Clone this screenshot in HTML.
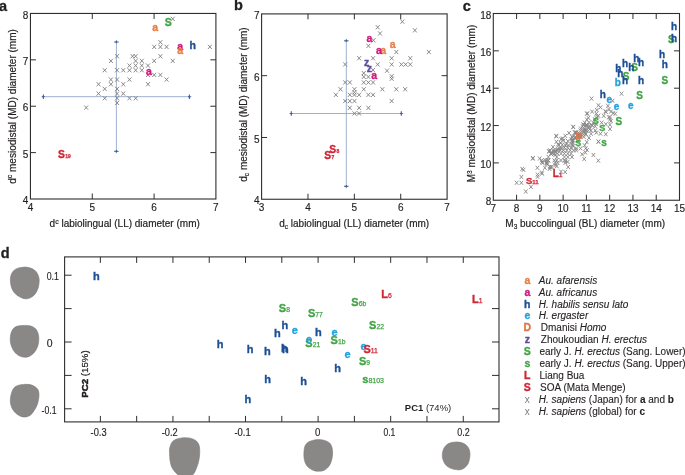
<!DOCTYPE html>
<html><head><meta charset="utf-8"><style>
html,body{margin:0;padding:0;background:#fff;width:685px;height:475px;overflow:hidden}
svg{display:block;will-change:transform}
text{font-family:"Liberation Sans", sans-serif}
</style></head><body>
<svg width="685" height="475" viewBox="0 0 685 475">
<rect x="30.45" y="13.45" width="185.45" height="185.55" fill="none" stroke="#2e2e2e" stroke-width="1.1"/>
<path d="M92.27,199.0v-5.5M92.27,13.45v5.5" stroke="#2e2e2e" stroke-width="1"/>
<path d="M154.08,199.0v-5.5M154.08,13.45v5.5" stroke="#2e2e2e" stroke-width="1"/>
<path d="M30.45,152.61h5.5M215.9,152.61h-5.5" stroke="#2e2e2e" stroke-width="1"/>
<path d="M30.45,106.22h5.5M215.9,106.22h-5.5" stroke="#2e2e2e" stroke-width="1"/>
<path d="M30.45,59.84h5.5M215.9,59.84h-5.5" stroke="#2e2e2e" stroke-width="1"/>
<text x="30.45" y="211.00" font-size="10" text-anchor="middle" font-weight="normal" fill="#231f20"  stroke="#231f20" stroke-width="0.15">4</text>
<text x="92.27" y="211.00" font-size="10" text-anchor="middle" font-weight="normal" fill="#231f20"  stroke="#231f20" stroke-width="0.15">5</text>
<text x="154.08" y="211.00" font-size="10" text-anchor="middle" font-weight="normal" fill="#231f20"  stroke="#231f20" stroke-width="0.15">6</text>
<text x="215.90" y="211.00" font-size="10" text-anchor="middle" font-weight="normal" fill="#231f20"  stroke="#231f20" stroke-width="0.15">7</text>
<text x="28.30" y="204.20" font-size="10" text-anchor="end" font-weight="normal" fill="#231f20"  stroke="#231f20" stroke-width="0.15">4</text>
<text x="28.30" y="157.81" font-size="10" text-anchor="end" font-weight="normal" fill="#231f20"  stroke="#231f20" stroke-width="0.15">5</text>
<text x="28.30" y="111.42" font-size="10" text-anchor="end" font-weight="normal" fill="#231f20"  stroke="#231f20" stroke-width="0.15">6</text>
<text x="28.30" y="65.04" font-size="10" text-anchor="end" font-weight="normal" fill="#231f20"  stroke="#231f20" stroke-width="0.15">7</text>
<text x="28.30" y="18.65" font-size="10" text-anchor="end" font-weight="normal" fill="#231f20"  stroke="#231f20" stroke-width="0.15">8</text>
<path d="M41.40,96.70H191.40M116.40,40.00V153.30" stroke="#94a7cc" stroke-width="0.9" fill="none"/>
<path d="M43.40,94.50v4.4" stroke="#3f5f95" stroke-width="1.1"/>
<path d="M42.10,96.70h2.6" stroke="#3f5f95" stroke-width="1.1"/>
<path d="M189.40,94.50v4.4" stroke="#3f5f95" stroke-width="1.1"/>
<path d="M188.10,96.70h2.6" stroke="#3f5f95" stroke-width="1.1"/>
<path d="M114.20,42.00h4.4" stroke="#3f5f95" stroke-width="1.1"/>
<path d="M116.40,40.70v2.6" stroke="#3f5f95" stroke-width="1.1"/>
<path d="M114.20,151.30h4.4" stroke="#3f5f95" stroke-width="1.1"/>
<path d="M116.40,150.00v2.6" stroke="#3f5f95" stroke-width="1.1"/>
<path d="M84.22,105.49L88.12,109.71M88.12,105.49L84.22,109.71" stroke="#7e7e7e" stroke-width="0.9" fill="none"/>
<path d="M96.58,82.14L100.48,86.36M100.48,82.14L96.58,86.36" stroke="#7e7e7e" stroke-width="0.9" fill="none"/>
<path d="M96.58,91.48L100.48,95.70M100.48,91.48L96.58,95.70" stroke="#7e7e7e" stroke-width="0.9" fill="none"/>
<path d="M102.77,68.13L106.67,72.35M106.67,68.13L102.77,72.35" stroke="#7e7e7e" stroke-width="0.9" fill="none"/>
<path d="M102.77,86.81L106.67,91.03M106.67,86.81L102.77,91.03" stroke="#7e7e7e" stroke-width="0.9" fill="none"/>
<path d="M102.77,96.15L106.67,100.37M106.67,96.15L102.77,100.37" stroke="#7e7e7e" stroke-width="0.9" fill="none"/>
<path d="M108.95,58.79L112.86,63.01M112.86,58.79L108.95,63.01" stroke="#7e7e7e" stroke-width="0.9" fill="none"/>
<path d="M108.95,77.47L112.86,81.69M112.86,77.47L108.95,81.69" stroke="#7e7e7e" stroke-width="0.9" fill="none"/>
<path d="M108.95,82.14L112.86,86.36M112.86,82.14L108.95,86.36" stroke="#7e7e7e" stroke-width="0.9" fill="none"/>
<path d="M115.14,54.12L119.04,58.34M119.04,54.12L115.14,58.34" stroke="#7e7e7e" stroke-width="0.9" fill="none"/>
<path d="M115.14,68.13L119.04,72.35M119.04,68.13L115.14,72.35" stroke="#7e7e7e" stroke-width="0.9" fill="none"/>
<path d="M115.14,77.47L119.04,81.69M119.04,77.47L115.14,81.69" stroke="#7e7e7e" stroke-width="0.9" fill="none"/>
<path d="M115.14,86.81L119.04,91.03M119.04,86.81L115.14,91.03" stroke="#7e7e7e" stroke-width="0.9" fill="none"/>
<path d="M115.14,91.48L119.04,95.70M119.04,91.48L115.14,95.70" stroke="#7e7e7e" stroke-width="0.9" fill="none"/>
<path d="M115.14,96.15L119.04,100.37M119.04,96.15L115.14,100.37" stroke="#7e7e7e" stroke-width="0.9" fill="none"/>
<path d="M115.14,100.82L119.04,105.04M119.04,100.82L115.14,105.04" stroke="#7e7e7e" stroke-width="0.9" fill="none"/>
<path d="M121.33,68.13L125.23,72.35M125.23,68.13L121.33,72.35" stroke="#7e7e7e" stroke-width="0.9" fill="none"/>
<path d="M121.33,82.14L125.23,86.36M125.23,82.14L121.33,86.36" stroke="#7e7e7e" stroke-width="0.9" fill="none"/>
<path d="M121.33,91.48L125.23,95.70M125.23,91.48L121.33,95.70" stroke="#7e7e7e" stroke-width="0.9" fill="none"/>
<path d="M127.51,63.46L131.41,67.68M131.41,63.46L127.51,67.68" stroke="#7e7e7e" stroke-width="0.9" fill="none"/>
<path d="M127.51,68.13L131.41,72.35M131.41,68.13L127.51,72.35" stroke="#7e7e7e" stroke-width="0.9" fill="none"/>
<path d="M127.51,77.47L131.41,81.69M131.41,77.47L127.51,81.69" stroke="#7e7e7e" stroke-width="0.9" fill="none"/>
<path d="M127.51,96.15L131.41,100.37M131.41,96.15L127.51,100.37" stroke="#7e7e7e" stroke-width="0.9" fill="none"/>
<path d="M130.60,54.12L134.50,58.34M134.50,54.12L130.60,58.34" stroke="#7e7e7e" stroke-width="0.9" fill="none"/>
<path d="M133.70,54.12L137.59,58.34M137.59,54.12L133.70,58.34" stroke="#7e7e7e" stroke-width="0.9" fill="none"/>
<path d="M133.70,58.79L137.59,63.01M137.59,58.79L133.70,63.01" stroke="#7e7e7e" stroke-width="0.9" fill="none"/>
<path d="M133.70,63.46L137.59,67.68M137.59,63.46L133.70,67.68" stroke="#7e7e7e" stroke-width="0.9" fill="none"/>
<path d="M133.70,68.13L137.59,72.35M137.59,68.13L133.70,72.35" stroke="#7e7e7e" stroke-width="0.9" fill="none"/>
<path d="M133.70,96.15L137.59,100.37M137.59,96.15L133.70,100.37" stroke="#7e7e7e" stroke-width="0.9" fill="none"/>
<path d="M139.88,58.79L143.78,63.01M143.78,58.79L139.88,63.01" stroke="#7e7e7e" stroke-width="0.9" fill="none"/>
<path d="M139.88,63.46L143.78,67.68M143.78,63.46L139.88,67.68" stroke="#7e7e7e" stroke-width="0.9" fill="none"/>
<path d="M139.88,68.13L143.78,72.35M143.78,68.13L139.88,72.35" stroke="#7e7e7e" stroke-width="0.9" fill="none"/>
<path d="M146.07,63.46L149.97,67.68M149.97,63.46L146.07,67.68" stroke="#7e7e7e" stroke-width="0.9" fill="none"/>
<path d="M146.07,72.80L149.97,77.02M149.97,72.80L146.07,77.02" stroke="#7e7e7e" stroke-width="0.9" fill="none"/>
<path d="M146.07,82.14L149.97,86.36M149.97,82.14L146.07,86.36" stroke="#7e7e7e" stroke-width="0.9" fill="none"/>
<path d="M152.25,44.78L156.15,49.00M156.15,44.78L152.25,49.00" stroke="#7e7e7e" stroke-width="0.9" fill="none"/>
<path d="M152.25,58.79L156.15,63.01M156.15,58.79L152.25,63.01" stroke="#7e7e7e" stroke-width="0.9" fill="none"/>
<path d="M152.25,72.80L156.15,77.02M156.15,72.80L152.25,77.02" stroke="#7e7e7e" stroke-width="0.9" fill="none"/>
<path d="M158.43,40.11L162.33,44.33M162.33,40.11L158.43,44.33" stroke="#7e7e7e" stroke-width="0.9" fill="none"/>
<path d="M158.43,44.78L162.33,49.00M162.33,44.78L158.43,49.00" stroke="#7e7e7e" stroke-width="0.9" fill="none"/>
<path d="M158.43,54.12L162.33,58.34M162.33,54.12L158.43,58.34" stroke="#7e7e7e" stroke-width="0.9" fill="none"/>
<path d="M158.43,72.80L162.33,77.02M162.33,72.80L158.43,77.02" stroke="#7e7e7e" stroke-width="0.9" fill="none"/>
<path d="M164.62,44.78L168.52,49.00M168.52,44.78L164.62,49.00" stroke="#7e7e7e" stroke-width="0.9" fill="none"/>
<path d="M164.62,77.47L168.52,81.69M168.52,77.47L164.62,81.69" stroke="#7e7e7e" stroke-width="0.9" fill="none"/>
<path d="M170.80,16.76L174.70,20.98M174.70,16.76L170.80,20.98" stroke="#7e7e7e" stroke-width="0.9" fill="none"/>
<path d="M170.80,58.79L174.70,63.01M174.70,58.79L170.80,63.01" stroke="#7e7e7e" stroke-width="0.9" fill="none"/>
<path d="M207.92,44.78L211.82,49.00M211.82,44.78L207.92,49.00" stroke="#7e7e7e" stroke-width="0.9" fill="none"/>
<text x="164.75" y="25.71" fill="#44a447" stroke="#44a447" stroke-width="0.35" font-size="10.5" font-weight="bold">S</text>
<text x="152.29" y="30.57" fill="#e5804a" stroke="#e5804a" stroke-width="0.35" font-size="10.5" font-weight="bold">a</text>
<text x="177.19" y="49.67" fill="#d2187f" stroke="#d2187f" stroke-width="0.35" font-size="10.5" font-weight="bold">a</text>
<text x="177.19" y="53.57" fill="#e5804a" stroke="#e5804a" stroke-width="0.35" font-size="10.5" font-weight="bold">a</text>
<text x="189.60" y="49.15" fill="#1d4f96" stroke="#1d4f96" stroke-width="0.35" font-size="10.5" font-weight="bold">h</text>
<text x="145.89" y="74.67" fill="#d2187f" stroke="#d2187f" stroke-width="0.35" font-size="10.5" font-weight="bold">a</text>
<text x="58.07" y="157.90" fill="#cf2636" stroke="#cf2636" stroke-width="0.35" font-size="10.3" font-weight="bold">S</text>
<text x="65.34" y="157.90" fill="#cf2636" stroke="#cf2636" stroke-width="0.25" font-size="5" font-weight="bold">19</text>
<text x="124.7" y="226.7" font-size="10" text-anchor="middle" fill="#231f20" stroke="#231f20" stroke-width="0.2">d<tspan font-size="7" dy="-3.2">c</tspan><tspan dy="3.2"> labiolingual (LL) diameter (mm)</tspan></text>
<text transform="translate(15.6,106.5) rotate(-90)" x="0" y="0" font-size="10" text-anchor="middle" fill="#231f20" stroke="#231f20" stroke-width="0.2">d<tspan font-size="7" dy="-3.2">c</tspan><tspan dy="3.2"> mesiodistal (MD) diameter (mm)</tspan></text>
<text x="-1.00" y="10.60" font-size="14.5" text-anchor="start" font-weight="bold" fill="#231f20" stroke="#231f20" stroke-width="0.3">a</text>
<rect x="261.6" y="13.9" width="185.50" height="185.35" fill="none" stroke="#2e2e2e" stroke-width="1.1"/>
<path d="M307.98,199.25v-5.5M307.98,13.9v5.5" stroke="#2e2e2e" stroke-width="1"/>
<path d="M354.35,199.25v-5.5M354.35,13.9v5.5" stroke="#2e2e2e" stroke-width="1"/>
<path d="M400.73,199.25v-5.5M400.73,13.9v5.5" stroke="#2e2e2e" stroke-width="1"/>
<path d="M261.6,137.47h5.5M447.1,137.47h-5.5" stroke="#2e2e2e" stroke-width="1"/>
<path d="M261.6,75.68h5.5M447.1,75.68h-5.5" stroke="#2e2e2e" stroke-width="1"/>
<text x="261.60" y="211.00" font-size="10" text-anchor="middle" font-weight="normal" fill="#231f20"  stroke="#231f20" stroke-width="0.15">3</text>
<text x="307.98" y="211.00" font-size="10" text-anchor="middle" font-weight="normal" fill="#231f20"  stroke="#231f20" stroke-width="0.15">4</text>
<text x="354.35" y="211.00" font-size="10" text-anchor="middle" font-weight="normal" fill="#231f20"  stroke="#231f20" stroke-width="0.15">5</text>
<text x="400.73" y="211.00" font-size="10" text-anchor="middle" font-weight="normal" fill="#231f20"  stroke="#231f20" stroke-width="0.15">6</text>
<text x="447.10" y="211.00" font-size="10" text-anchor="middle" font-weight="normal" fill="#231f20"  stroke="#231f20" stroke-width="0.15">7</text>
<text x="259.60" y="204.45" font-size="10" text-anchor="end" font-weight="normal" fill="#231f20"  stroke="#231f20" stroke-width="0.15">4</text>
<text x="259.60" y="142.67" font-size="10" text-anchor="end" font-weight="normal" fill="#231f20"  stroke="#231f20" stroke-width="0.15">5</text>
<text x="259.60" y="80.88" font-size="10" text-anchor="end" font-weight="normal" fill="#231f20"  stroke="#231f20" stroke-width="0.15">6</text>
<text x="259.60" y="19.10" font-size="10" text-anchor="end" font-weight="normal" fill="#231f20"  stroke="#231f20" stroke-width="0.15">7</text>
<path d="M289.30,113.50H403.30M346.30,38.80V188.30" stroke="#94a7cc" stroke-width="0.9" fill="none"/>
<path d="M291.30,111.30v4.4" stroke="#3f5f95" stroke-width="1.1"/>
<path d="M290.00,113.50h2.6" stroke="#3f5f95" stroke-width="1.1"/>
<path d="M401.30,111.30v4.4" stroke="#3f5f95" stroke-width="1.1"/>
<path d="M400.00,113.50h2.6" stroke="#3f5f95" stroke-width="1.1"/>
<path d="M344.10,40.80h4.4" stroke="#3f5f95" stroke-width="1.1"/>
<path d="M346.30,39.50v2.6" stroke="#3f5f95" stroke-width="1.1"/>
<path d="M344.10,186.30h4.4" stroke="#3f5f95" stroke-width="1.1"/>
<path d="M346.30,185.00v2.6" stroke="#3f5f95" stroke-width="1.1"/>
<path d="M375.76,25.15L379.66,29.37M379.66,25.15L375.76,29.37" stroke="#7e7e7e" stroke-width="0.9" fill="none"/>
<path d="M378.09,31.35L381.99,35.57M381.99,31.35L378.09,35.57" stroke="#7e7e7e" stroke-width="0.9" fill="none"/>
<path d="M371.58,38.17L375.48,42.39M375.48,38.17L371.58,42.39" stroke="#7e7e7e" stroke-width="0.9" fill="none"/>
<path d="M366.46,43.75L370.36,47.97M370.36,43.75L366.46,47.97" stroke="#7e7e7e" stroke-width="0.9" fill="none"/>
<path d="M394.37,49.95L398.26,54.17M398.26,49.95L394.37,54.17" stroke="#7e7e7e" stroke-width="0.9" fill="none"/>
<path d="M400.41,19.57L404.31,23.79M404.31,19.57L400.41,23.79" stroke="#7e7e7e" stroke-width="0.9" fill="none"/>
<path d="M412.96,28.25L416.86,32.47M416.86,28.25L412.96,32.47" stroke="#7e7e7e" stroke-width="0.9" fill="none"/>
<path d="M426.92,49.95L430.81,54.17M430.81,49.95L426.92,54.17" stroke="#7e7e7e" stroke-width="0.9" fill="none"/>
<path d="M357.17,56.15L361.06,60.37M361.06,56.15L357.17,60.37" stroke="#7e7e7e" stroke-width="0.9" fill="none"/>
<path d="M371.12,56.15L375.01,60.37M375.01,56.15L371.12,60.37" stroke="#7e7e7e" stroke-width="0.9" fill="none"/>
<path d="M389.71,56.15L393.61,60.37M393.61,56.15L389.71,60.37" stroke="#7e7e7e" stroke-width="0.9" fill="none"/>
<path d="M408.31,56.15L412.21,60.37M412.21,56.15L408.31,60.37" stroke="#7e7e7e" stroke-width="0.9" fill="none"/>
<path d="M343.21,62.35L347.11,66.57M347.11,62.35L343.21,66.57" stroke="#7e7e7e" stroke-width="0.9" fill="none"/>
<path d="M375.76,62.35L379.66,66.57M379.66,62.35L375.76,66.57" stroke="#7e7e7e" stroke-width="0.9" fill="none"/>
<path d="M389.71,62.35L393.61,66.57M393.61,62.35L389.71,66.57" stroke="#7e7e7e" stroke-width="0.9" fill="none"/>
<path d="M399.48,62.35L403.38,66.57M403.38,62.35L399.48,66.57" stroke="#7e7e7e" stroke-width="0.9" fill="none"/>
<path d="M403.67,62.35L407.56,66.57M407.56,62.35L403.67,66.57" stroke="#7e7e7e" stroke-width="0.9" fill="none"/>
<path d="M408.31,62.35L412.21,66.57M412.21,62.35L408.31,66.57" stroke="#7e7e7e" stroke-width="0.9" fill="none"/>
<path d="M371.12,67.93L375.01,72.15M375.01,67.93L371.12,72.15" stroke="#7e7e7e" stroke-width="0.9" fill="none"/>
<path d="M385.06,68.55L388.96,72.77M388.96,68.55L385.06,72.77" stroke="#7e7e7e" stroke-width="0.9" fill="none"/>
<path d="M361.81,71.03L365.71,75.25M365.71,71.03L361.81,75.25" stroke="#7e7e7e" stroke-width="0.9" fill="none"/>
<path d="M361.81,74.75L365.71,78.97M365.71,74.75L361.81,78.97" stroke="#7e7e7e" stroke-width="0.9" fill="none"/>
<path d="M366.46,74.75L370.36,78.97M370.36,74.75L366.46,78.97" stroke="#7e7e7e" stroke-width="0.9" fill="none"/>
<path d="M389.71,74.13L393.61,78.35M393.61,74.13L389.71,78.35" stroke="#7e7e7e" stroke-width="0.9" fill="none"/>
<path d="M389.71,76.61L393.61,80.83M393.61,76.61L389.71,80.83" stroke="#7e7e7e" stroke-width="0.9" fill="none"/>
<path d="M343.21,80.33L347.11,84.55M347.11,80.33L343.21,84.55" stroke="#7e7e7e" stroke-width="0.9" fill="none"/>
<path d="M347.87,80.33L351.76,84.55M351.76,80.33L347.87,84.55" stroke="#7e7e7e" stroke-width="0.9" fill="none"/>
<path d="M361.81,80.33L365.71,84.55M365.71,80.33L361.81,84.55" stroke="#7e7e7e" stroke-width="0.9" fill="none"/>
<path d="M366.46,80.33L370.36,84.55M370.36,80.33L366.46,84.55" stroke="#7e7e7e" stroke-width="0.9" fill="none"/>
<path d="M371.12,80.33L375.01,84.55M375.01,80.33L371.12,84.55" stroke="#7e7e7e" stroke-width="0.9" fill="none"/>
<path d="M338.56,87.15L342.46,91.37M342.46,87.15L338.56,91.37" stroke="#7e7e7e" stroke-width="0.9" fill="none"/>
<path d="M352.51,87.15L356.41,91.37M356.41,87.15L352.51,91.37" stroke="#7e7e7e" stroke-width="0.9" fill="none"/>
<path d="M352.51,90.25L356.41,94.47M356.41,90.25L352.51,94.47" stroke="#7e7e7e" stroke-width="0.9" fill="none"/>
<path d="M361.81,87.15L365.71,91.37M365.71,87.15L361.81,91.37" stroke="#7e7e7e" stroke-width="0.9" fill="none"/>
<path d="M380.42,87.15L384.31,91.37M384.31,87.15L380.42,91.37" stroke="#7e7e7e" stroke-width="0.9" fill="none"/>
<path d="M394.37,87.15L398.26,91.37M398.26,87.15L394.37,91.37" stroke="#7e7e7e" stroke-width="0.9" fill="none"/>
<path d="M403.20,87.15L407.10,91.37M407.10,87.15L403.20,91.37" stroke="#7e7e7e" stroke-width="0.9" fill="none"/>
<path d="M333.92,92.73L337.81,96.95M337.81,92.73L333.92,96.95" stroke="#7e7e7e" stroke-width="0.9" fill="none"/>
<path d="M347.87,92.73L351.76,96.95M351.76,92.73L347.87,96.95" stroke="#7e7e7e" stroke-width="0.9" fill="none"/>
<path d="M352.51,92.73L356.41,96.95M356.41,92.73L352.51,96.95" stroke="#7e7e7e" stroke-width="0.9" fill="none"/>
<path d="M357.17,92.73L361.06,96.95M361.06,92.73L357.17,96.95" stroke="#7e7e7e" stroke-width="0.9" fill="none"/>
<path d="M366.46,92.73L370.36,96.95M370.36,92.73L366.46,96.95" stroke="#7e7e7e" stroke-width="0.9" fill="none"/>
<path d="M371.12,92.73L375.01,96.95M375.01,92.73L371.12,96.95" stroke="#7e7e7e" stroke-width="0.9" fill="none"/>
<path d="M343.21,98.93L347.11,103.15M347.11,98.93L343.21,103.15" stroke="#7e7e7e" stroke-width="0.9" fill="none"/>
<path d="M347.87,98.93L351.76,103.15M351.76,98.93L347.87,103.15" stroke="#7e7e7e" stroke-width="0.9" fill="none"/>
<path d="M352.51,98.93L356.41,103.15M356.41,98.93L352.51,103.15" stroke="#7e7e7e" stroke-width="0.9" fill="none"/>
<path d="M389.71,98.93L393.61,103.15M393.61,98.93L389.71,103.15" stroke="#7e7e7e" stroke-width="0.9" fill="none"/>
<path d="M347.87,105.75L351.76,109.97M351.76,105.75L347.87,109.97" stroke="#7e7e7e" stroke-width="0.9" fill="none"/>
<path d="M357.17,105.75L361.06,109.97M361.06,105.75L357.17,109.97" stroke="#7e7e7e" stroke-width="0.9" fill="none"/>
<path d="M366.46,105.75L370.36,109.97M370.36,105.75L366.46,109.97" stroke="#7e7e7e" stroke-width="0.9" fill="none"/>
<path d="M352.51,111.33L356.41,115.55M356.41,111.33L352.51,115.55" stroke="#7e7e7e" stroke-width="0.9" fill="none"/>
<path d="M357.17,111.33L361.06,115.55M361.06,111.33L357.17,115.55" stroke="#7e7e7e" stroke-width="0.9" fill="none"/>
<text x="366.59" y="41.67" fill="#d2187f" stroke="#d2187f" stroke-width="0.35" font-size="10.5" font-weight="bold">a</text>
<text x="389.79" y="47.77" fill="#e5804a" stroke="#e5804a" stroke-width="0.35" font-size="10.5" font-weight="bold">a</text>
<text x="380.19" y="54.27" fill="#e5804a" stroke="#e5804a" stroke-width="0.35" font-size="10.5" font-weight="bold">a</text>
<text x="375.89" y="54.27" fill="#d2187f" stroke="#d2187f" stroke-width="0.35" font-size="10.5" font-weight="bold">a</text>
<text x="364.05" y="66.47" fill="#5f4c98" stroke="#5f4c98" stroke-width="0.35" font-size="10.5" font-weight="bold">z</text>
<text x="366.85" y="72.47" fill="#5f4c98" stroke="#5f4c98" stroke-width="0.35" font-size="10.5" font-weight="bold">z</text>
<text x="371.29" y="78.77" fill="#d2187f" stroke="#d2187f" stroke-width="0.35" font-size="10.5" font-weight="bold">a</text>
<text x="329.22" y="152.80" fill="#cf2636" stroke="#cf2636" stroke-width="0.35" font-size="10.3" font-weight="bold">S</text>
<text x="336.49" y="152.80" fill="#cf2636" stroke="#cf2636" stroke-width="0.25" font-size="5" font-weight="bold">8</text>
<text x="324.27" y="158.95" fill="#cf2636" stroke="#cf2636" stroke-width="0.35" font-size="10.3" font-weight="bold">S</text>
<text x="331.54" y="158.95" fill="#cf2636" stroke="#cf2636" stroke-width="0.25" font-size="5" font-weight="bold">7</text>
<text x="354.2" y="226.7" font-size="10" text-anchor="middle" fill="#231f20" stroke="#231f20" stroke-width="0.2">d<tspan font-size="6.5" dy="2">c</tspan><tspan dy="-2"> labiolingual (LL) diameter (mm)</tspan></text>
<text transform="translate(246.9,104.5) rotate(-90)" x="0" y="0" font-size="10" text-anchor="middle" fill="#231f20" stroke="#231f20" stroke-width="0.2">d<tspan font-size="6.5" dy="2">c</tspan><tspan dy="-2"> mesiodistal (MD) diameter (mm)</tspan></text>
<text x="234.00" y="10.00" font-size="14.5" text-anchor="start" font-weight="bold" fill="#231f20" stroke="#231f20" stroke-width="0.3">b</text>
<rect x="493.3" y="13.5" width="186.20" height="186.75" fill="none" stroke="#2e2e2e" stroke-width="1.1"/>
<path d="M516.58,200.25v-5.5M516.58,13.5v5.5" stroke="#2e2e2e" stroke-width="1"/>
<path d="M539.85,200.25v-5.5M539.85,13.5v5.5" stroke="#2e2e2e" stroke-width="1"/>
<path d="M563.12,200.25v-5.5M563.12,13.5v5.5" stroke="#2e2e2e" stroke-width="1"/>
<path d="M586.40,200.25v-5.5M586.40,13.5v5.5" stroke="#2e2e2e" stroke-width="1"/>
<path d="M609.67,200.25v-5.5M609.67,13.5v5.5" stroke="#2e2e2e" stroke-width="1"/>
<path d="M632.95,200.25v-5.5M632.95,13.5v5.5" stroke="#2e2e2e" stroke-width="1"/>
<path d="M656.23,200.25v-5.5M656.23,13.5v5.5" stroke="#2e2e2e" stroke-width="1"/>
<path d="M493.3,162.90h5.5M679.5,162.90h-5.5" stroke="#2e2e2e" stroke-width="1"/>
<path d="M493.3,125.55h5.5M679.5,125.55h-5.5" stroke="#2e2e2e" stroke-width="1"/>
<path d="M493.3,88.20h5.5M679.5,88.20h-5.5" stroke="#2e2e2e" stroke-width="1"/>
<path d="M493.3,50.85h5.5M679.5,50.85h-5.5" stroke="#2e2e2e" stroke-width="1"/>
<text x="493.30" y="212.30" font-size="10" text-anchor="middle" font-weight="normal" fill="#231f20"  stroke="#231f20" stroke-width="0.15">7</text>
<text x="516.58" y="212.30" font-size="10" text-anchor="middle" font-weight="normal" fill="#231f20"  stroke="#231f20" stroke-width="0.15">8</text>
<text x="539.85" y="212.30" font-size="10" text-anchor="middle" font-weight="normal" fill="#231f20"  stroke="#231f20" stroke-width="0.15">9</text>
<text x="563.12" y="212.30" font-size="10" text-anchor="middle" font-weight="normal" fill="#231f20"  stroke="#231f20" stroke-width="0.15">10</text>
<text x="586.40" y="212.30" font-size="10" text-anchor="middle" font-weight="normal" fill="#231f20"  stroke="#231f20" stroke-width="0.15">11</text>
<text x="609.67" y="212.30" font-size="10" text-anchor="middle" font-weight="normal" fill="#231f20"  stroke="#231f20" stroke-width="0.15">12</text>
<text x="632.95" y="212.30" font-size="10" text-anchor="middle" font-weight="normal" fill="#231f20"  stroke="#231f20" stroke-width="0.15">13</text>
<text x="656.23" y="212.30" font-size="10" text-anchor="middle" font-weight="normal" fill="#231f20"  stroke="#231f20" stroke-width="0.15">14</text>
<text x="679.50" y="212.30" font-size="10" text-anchor="middle" font-weight="normal" fill="#231f20"  stroke="#231f20" stroke-width="0.15">15</text>
<text x="491.30" y="205.45" font-size="10" text-anchor="end" font-weight="normal" fill="#231f20"  stroke="#231f20" stroke-width="0.15">8</text>
<text x="491.30" y="168.10" font-size="10" text-anchor="end" font-weight="normal" fill="#231f20"  stroke="#231f20" stroke-width="0.15">10</text>
<text x="491.30" y="130.75" font-size="10" text-anchor="end" font-weight="normal" fill="#231f20"  stroke="#231f20" stroke-width="0.15">12</text>
<text x="491.30" y="93.40" font-size="10" text-anchor="end" font-weight="normal" fill="#231f20"  stroke="#231f20" stroke-width="0.15">14</text>
<text x="491.30" y="56.05" font-size="10" text-anchor="end" font-weight="normal" fill="#231f20"  stroke="#231f20" stroke-width="0.15">16</text>
<text x="491.30" y="18.70" font-size="10" text-anchor="end" font-weight="normal" fill="#231f20"  stroke="#231f20" stroke-width="0.15">18</text>
<path d="M514.85,180.75L518.35,184.85M518.35,180.75L514.85,184.85" stroke="#878787" stroke-width="0.9" fill="none"/>
<path d="M519.65,180.75L523.15,184.85M523.15,180.75L519.65,184.85" stroke="#878787" stroke-width="0.9" fill="none"/>
<path d="M519.65,174.95L523.15,179.05M523.15,174.95L519.65,179.05" stroke="#878787" stroke-width="0.9" fill="none"/>
<path d="M521.75,167.85L525.25,171.95M525.25,167.85L521.75,171.95" stroke="#878787" stroke-width="0.9" fill="none"/>
<path d="M531.05,156.45L534.55,160.55M534.55,156.45L531.05,160.55" stroke="#878787" stroke-width="0.9" fill="none"/>
<path d="M537.95,156.45L541.45,160.55M541.45,156.45L537.95,160.55" stroke="#878787" stroke-width="0.9" fill="none"/>
<path d="M540.25,159.95L543.75,164.05M543.75,159.95L540.25,164.05" stroke="#878787" stroke-width="0.9" fill="none"/>
<path d="M535.65,165.75L539.15,169.85M539.15,165.75L535.65,169.85" stroke="#878787" stroke-width="0.9" fill="none"/>
<path d="M543.15,165.75L546.65,169.85M546.65,165.75L543.15,169.85" stroke="#878787" stroke-width="0.9" fill="none"/>
<path d="M535.85,172.45L539.35,176.55M539.35,172.45L535.85,176.55" stroke="#878787" stroke-width="0.9" fill="none"/>
<path d="M535.85,174.75L539.35,178.85M539.35,174.75L535.85,178.85" stroke="#878787" stroke-width="0.9" fill="none"/>
<path d="M540.25,171.55L543.75,175.65M543.75,171.55L540.25,175.65" stroke="#878787" stroke-width="0.9" fill="none"/>
<path d="M545.45,162.25L548.95,166.35M548.95,162.25L545.45,166.35" stroke="#878787" stroke-width="0.9" fill="none"/>
<path d="M547.85,166.85L551.35,170.95M551.35,166.85L547.85,170.95" stroke="#878787" stroke-width="0.9" fill="none"/>
<path d="M548.95,165.15L552.45,169.25M552.45,165.15L548.95,169.25" stroke="#878787" stroke-width="0.9" fill="none"/>
<path d="M529.25,184.85L532.75,188.95M532.75,184.85L529.25,188.95" stroke="#878787" stroke-width="0.9" fill="none"/>
<path d="M524.05,189.45L527.55,193.55M527.55,189.45L524.05,193.55" stroke="#878787" stroke-width="0.9" fill="none"/>
<path d="M547.25,149.55L550.75,153.65M550.75,149.55L547.25,153.65" stroke="#878787" stroke-width="0.9" fill="none"/>
<path d="M549.55,151.85L553.05,155.95M553.05,151.85L549.55,155.95" stroke="#878787" stroke-width="0.9" fill="none"/>
<path d="M551.85,149.55L555.35,153.65M555.35,149.55L551.85,153.65" stroke="#878787" stroke-width="0.9" fill="none"/>
<path d="M546.65,158.25L550.15,162.35M550.15,158.25L546.65,162.35" stroke="#878787" stroke-width="0.9" fill="none"/>
<path d="M544.95,159.95L548.45,164.05M548.45,159.95L544.95,164.05" stroke="#878787" stroke-width="0.9" fill="none"/>
<path d="M571.55,125.05L575.05,129.15M575.05,125.05L571.55,129.15" stroke="#878787" stroke-width="0.9" fill="none"/>
<path d="M554.65,134.35L558.15,138.45M558.15,134.35L554.65,138.45" stroke="#878787" stroke-width="0.9" fill="none"/>
<path d="M563.55,133.85L567.05,137.95M567.05,133.85L563.55,137.95" stroke="#878787" stroke-width="0.9" fill="none"/>
<path d="M560.95,136.45L564.45,140.55M564.45,136.45L560.95,140.55" stroke="#878787" stroke-width="0.9" fill="none"/>
<path d="M554.65,139.75L558.15,143.85M558.15,139.75L554.65,143.85" stroke="#878787" stroke-width="0.9" fill="none"/>
<path d="M558.85,140.65L562.35,144.75M562.35,140.65L558.85,144.75" stroke="#878787" stroke-width="0.9" fill="none"/>
<path d="M566.05,138.95L569.55,143.05M569.55,138.95L566.05,143.05" stroke="#878787" stroke-width="0.9" fill="none"/>
<path d="M570.65,135.55L574.15,139.65M574.15,135.55L570.65,139.65" stroke="#878787" stroke-width="0.9" fill="none"/>
<path d="M570.65,138.15L574.15,142.25M574.15,138.15L570.65,142.25" stroke="#878787" stroke-width="0.9" fill="none"/>
<path d="M570.65,140.65L574.15,144.75M574.15,140.65L570.65,144.75" stroke="#878787" stroke-width="0.9" fill="none"/>
<path d="M570.65,143.15L574.15,147.25M574.15,143.15L570.65,147.25" stroke="#878787" stroke-width="0.9" fill="none"/>
<path d="M563.55,143.15L567.05,147.25M567.05,143.15L563.55,147.25" stroke="#878787" stroke-width="0.9" fill="none"/>
<path d="M566.85,143.15L570.35,147.25M570.35,143.15L566.85,147.25" stroke="#878787" stroke-width="0.9" fill="none"/>
<path d="M559.25,145.65L562.75,149.75M562.75,145.65L559.25,149.75" stroke="#878787" stroke-width="0.9" fill="none"/>
<path d="M562.65,145.65L566.15,149.75M566.15,145.65L562.65,149.75" stroke="#878787" stroke-width="0.9" fill="none"/>
<path d="M566.05,145.65L569.55,149.75M569.55,145.65L566.05,149.75" stroke="#878787" stroke-width="0.9" fill="none"/>
<path d="M548.35,148.25L551.85,152.35M551.85,148.25L548.35,152.35" stroke="#878787" stroke-width="0.9" fill="none"/>
<path d="M551.75,148.25L555.25,152.35M555.25,148.25L551.75,152.35" stroke="#878787" stroke-width="0.9" fill="none"/>
<path d="M555.05,148.25L558.55,152.35M558.55,148.25L555.05,152.35" stroke="#878787" stroke-width="0.9" fill="none"/>
<path d="M558.45,148.25L561.95,152.35M561.95,148.25L558.45,152.35" stroke="#878787" stroke-width="0.9" fill="none"/>
<path d="M561.85,148.25L565.35,152.35M565.35,148.25L561.85,152.35" stroke="#878787" stroke-width="0.9" fill="none"/>
<path d="M565.15,148.25L568.65,152.35M568.65,148.25L565.15,152.35" stroke="#878787" stroke-width="0.9" fill="none"/>
<path d="M568.55,148.25L572.05,152.35M572.05,148.25L568.55,152.35" stroke="#878787" stroke-width="0.9" fill="none"/>
<path d="M571.95,148.25L575.45,152.35M575.45,148.25L571.95,152.35" stroke="#878787" stroke-width="0.9" fill="none"/>
<path d="M574.45,148.25L577.95,152.35M577.95,148.25L574.45,152.35" stroke="#878787" stroke-width="0.9" fill="none"/>
<path d="M549.15,151.55L552.65,155.65M552.65,151.55L549.15,155.65" stroke="#878787" stroke-width="0.9" fill="none"/>
<path d="M552.55,151.55L556.05,155.65M556.05,151.55L552.55,155.65" stroke="#878787" stroke-width="0.9" fill="none"/>
<path d="M555.95,151.55L559.45,155.65M559.45,151.55L555.95,155.65" stroke="#878787" stroke-width="0.9" fill="none"/>
<path d="M559.25,151.55L562.75,155.65M562.75,151.55L559.25,155.65" stroke="#878787" stroke-width="0.9" fill="none"/>
<path d="M562.65,151.55L566.15,155.65M566.15,151.55L562.65,155.65" stroke="#878787" stroke-width="0.9" fill="none"/>
<path d="M566.05,151.55L569.55,155.65M569.55,151.55L566.05,155.65" stroke="#878787" stroke-width="0.9" fill="none"/>
<path d="M569.45,151.55L572.95,155.65M572.95,151.55L569.45,155.65" stroke="#878787" stroke-width="0.9" fill="none"/>
<path d="M546.65,154.95L550.15,159.05M550.15,154.95L546.65,159.05" stroke="#878787" stroke-width="0.9" fill="none"/>
<path d="M555.05,154.95L558.55,159.05M558.55,154.95L555.05,159.05" stroke="#878787" stroke-width="0.9" fill="none"/>
<path d="M562.65,154.95L566.15,159.05M566.15,154.95L562.65,159.05" stroke="#878787" stroke-width="0.9" fill="none"/>
<path d="M566.05,154.95L569.55,159.05M569.55,154.95L566.05,159.05" stroke="#878787" stroke-width="0.9" fill="none"/>
<path d="M570.25,154.95L573.75,159.05M573.75,154.95L570.25,159.05" stroke="#878787" stroke-width="0.9" fill="none"/>
<path d="M539.95,158.35L543.45,162.45M543.45,158.35L539.95,162.45" stroke="#878787" stroke-width="0.9" fill="none"/>
<path d="M543.35,158.35L546.85,162.45M546.85,158.35L543.35,162.45" stroke="#878787" stroke-width="0.9" fill="none"/>
<path d="M546.65,158.35L550.15,162.45M550.15,158.35L546.65,162.45" stroke="#878787" stroke-width="0.9" fill="none"/>
<path d="M552.55,158.35L556.05,162.45M556.05,158.35L552.55,162.45" stroke="#878787" stroke-width="0.9" fill="none"/>
<path d="M559.25,158.35L562.75,162.45M562.75,158.35L559.25,162.45" stroke="#878787" stroke-width="0.9" fill="none"/>
<path d="M562.65,158.35L566.15,162.45M566.15,158.35L562.65,162.45" stroke="#878787" stroke-width="0.9" fill="none"/>
<path d="M540.75,160.85L544.25,164.95M544.25,160.85L540.75,164.95" stroke="#878787" stroke-width="0.9" fill="none"/>
<path d="M544.95,160.85L548.45,164.95M548.45,160.85L544.95,164.95" stroke="#878787" stroke-width="0.9" fill="none"/>
<path d="M553.45,160.85L556.95,164.95M556.95,160.85L553.45,164.95" stroke="#878787" stroke-width="0.9" fill="none"/>
<path d="M563.55,160.85L567.05,164.95M567.05,160.85L563.55,164.95" stroke="#878787" stroke-width="0.9" fill="none"/>
<path d="M596.65,103.25L600.15,107.35M600.15,103.25L596.65,107.35" stroke="#878787" stroke-width="0.9" fill="none"/>
<path d="M598.75,105.35L602.25,109.45M602.25,105.35L598.75,109.45" stroke="#878787" stroke-width="0.9" fill="none"/>
<path d="M595.05,107.95L598.55,112.05M598.55,107.95L595.05,112.05" stroke="#878787" stroke-width="0.9" fill="none"/>
<path d="M606.15,103.75L609.65,107.85M609.65,103.75L606.15,107.85" stroke="#878787" stroke-width="0.9" fill="none"/>
<path d="M607.25,107.45L610.75,111.55M610.75,107.45L607.25,111.55" stroke="#878787" stroke-width="0.9" fill="none"/>
<path d="M609.25,109.55L612.75,113.65M612.75,109.55L609.25,113.65" stroke="#878787" stroke-width="0.9" fill="none"/>
<path d="M611.45,111.15L614.95,115.25M614.95,111.15L611.45,115.25" stroke="#878787" stroke-width="0.9" fill="none"/>
<path d="M613.55,111.65L617.05,115.75M617.05,111.65L613.55,115.75" stroke="#878787" stroke-width="0.9" fill="none"/>
<path d="M585.05,111.65L588.55,115.75M588.55,111.65L585.05,115.75" stroke="#878787" stroke-width="0.9" fill="none"/>
<path d="M590.35,109.55L593.85,113.65M593.85,109.55L590.35,113.65" stroke="#878787" stroke-width="0.9" fill="none"/>
<path d="M594.55,111.65L598.05,115.75M598.05,111.65L594.55,115.75" stroke="#878787" stroke-width="0.9" fill="none"/>
<path d="M596.65,113.75L600.15,117.85M600.15,113.75L596.65,117.85" stroke="#878787" stroke-width="0.9" fill="none"/>
<path d="M601.95,113.75L605.45,117.85M605.45,113.75L601.95,117.85" stroke="#878787" stroke-width="0.9" fill="none"/>
<path d="M608.25,115.35L611.75,119.45M611.75,115.35L608.25,119.45" stroke="#878787" stroke-width="0.9" fill="none"/>
<path d="M608.25,117.45L611.75,121.55M611.75,117.45L608.25,121.55" stroke="#878787" stroke-width="0.9" fill="none"/>
<path d="M609.25,118.95L612.75,123.05M612.75,118.95L609.25,123.05" stroke="#878787" stroke-width="0.9" fill="none"/>
<path d="M585.05,117.45L588.55,121.55M588.55,117.45L585.05,121.55" stroke="#878787" stroke-width="0.9" fill="none"/>
<path d="M582.95,120.55L586.45,124.65M586.45,120.55L582.95,124.65" stroke="#878787" stroke-width="0.9" fill="none"/>
<path d="M587.25,120.55L590.75,124.65M590.75,120.55L587.25,124.65" stroke="#878787" stroke-width="0.9" fill="none"/>
<path d="M591.45,120.55L594.95,124.65M594.95,120.55L591.45,124.65" stroke="#878787" stroke-width="0.9" fill="none"/>
<path d="M599.85,120.55L603.35,124.65M603.35,120.55L599.85,124.65" stroke="#878787" stroke-width="0.9" fill="none"/>
<path d="M604.05,122.15L607.55,126.25M607.55,122.15L604.05,126.25" stroke="#878787" stroke-width="0.9" fill="none"/>
<path d="M608.25,122.65L611.75,126.75M611.75,122.65L608.25,126.75" stroke="#878787" stroke-width="0.9" fill="none"/>
<path d="M608.25,126.95L611.75,131.05M611.75,126.95L608.25,131.05" stroke="#878787" stroke-width="0.9" fill="none"/>
<path d="M571.45,124.75L574.95,128.85M574.95,124.75L571.45,128.85" stroke="#878787" stroke-width="0.9" fill="none"/>
<path d="M580.85,124.25L584.35,128.35M584.35,124.25L580.85,128.35" stroke="#878787" stroke-width="0.9" fill="none"/>
<path d="M584.05,123.25L587.55,127.35M587.55,123.25L584.05,127.35" stroke="#878787" stroke-width="0.9" fill="none"/>
<path d="M587.25,125.35L590.75,129.45M590.75,125.35L587.25,129.45" stroke="#878787" stroke-width="0.9" fill="none"/>
<path d="M590.35,123.25L593.85,127.35M593.85,123.25L590.35,127.35" stroke="#878787" stroke-width="0.9" fill="none"/>
<path d="M593.55,124.25L597.05,128.35M597.05,124.25L593.55,128.35" stroke="#878787" stroke-width="0.9" fill="none"/>
<path d="M578.75,128.45L582.25,132.55M582.25,128.45L578.75,132.55" stroke="#878787" stroke-width="0.9" fill="none"/>
<path d="M581.95,128.45L585.45,132.55M585.45,128.45L581.95,132.55" stroke="#878787" stroke-width="0.9" fill="none"/>
<path d="M585.05,128.45L588.55,132.55M588.55,128.45L585.05,132.55" stroke="#878787" stroke-width="0.9" fill="none"/>
<path d="M589.25,128.45L592.75,132.55M592.75,128.45L589.25,132.55" stroke="#878787" stroke-width="0.9" fill="none"/>
<path d="M593.55,128.45L597.05,132.55M597.05,128.45L593.55,132.55" stroke="#878787" stroke-width="0.9" fill="none"/>
<path d="M577.75,131.65L581.25,135.75M581.25,131.65L577.75,135.75" stroke="#878787" stroke-width="0.9" fill="none"/>
<path d="M584.05,131.65L587.55,135.75M587.55,131.65L584.05,135.75" stroke="#878787" stroke-width="0.9" fill="none"/>
<path d="M589.25,131.65L592.75,135.75M592.75,131.65L589.25,135.75" stroke="#878787" stroke-width="0.9" fill="none"/>
<path d="M594.55,130.55L598.05,134.65M598.05,130.55L594.55,134.65" stroke="#878787" stroke-width="0.9" fill="none"/>
<path d="M598.75,131.65L602.25,135.75M602.25,131.65L598.75,135.75" stroke="#878787" stroke-width="0.9" fill="none"/>
<path d="M604.05,132.15L607.55,136.25M607.55,132.15L604.05,136.25" stroke="#878787" stroke-width="0.9" fill="none"/>
<path d="M581.95,134.75L585.45,138.85M585.45,134.75L581.95,138.85" stroke="#878787" stroke-width="0.9" fill="none"/>
<path d="M587.25,135.85L590.75,139.95M590.75,135.85L587.25,139.95" stroke="#878787" stroke-width="0.9" fill="none"/>
<path d="M596.65,139.55L600.15,143.65M600.15,139.55L596.65,143.65" stroke="#878787" stroke-width="0.9" fill="none"/>
<path d="M585.05,140.05L588.55,144.15M588.55,140.05L585.05,144.15" stroke="#878787" stroke-width="0.9" fill="none"/>
<path d="M582.95,143.25L586.45,147.35M586.45,143.25L582.95,147.35" stroke="#878787" stroke-width="0.9" fill="none"/>
<path d="M570.35,134.75L573.85,138.85M573.85,134.75L570.35,138.85" stroke="#878787" stroke-width="0.9" fill="none"/>
<path d="M570.35,138.95L573.85,143.05M573.85,138.95L570.35,143.05" stroke="#878787" stroke-width="0.9" fill="none"/>
<path d="M570.35,142.15L573.85,146.25M573.85,142.15L570.35,146.25" stroke="#878787" stroke-width="0.9" fill="none"/>
<path d="M571.45,144.25L574.95,148.35M574.95,144.25L571.45,148.35" stroke="#878787" stroke-width="0.9" fill="none"/>
<path d="M574.55,146.35L578.05,150.45M578.05,146.35L574.55,150.45" stroke="#878787" stroke-width="0.9" fill="none"/>
<path d="M578.75,146.35L582.25,150.45M582.25,146.35L578.75,150.45" stroke="#878787" stroke-width="0.9" fill="none"/>
<path d="M584.05,146.35L587.55,150.45M587.55,146.35L584.05,150.45" stroke="#878787" stroke-width="0.9" fill="none"/>
<path d="M591.65,152.95L595.15,157.05M595.15,152.95L591.65,157.05" stroke="#878787" stroke-width="0.9" fill="none"/>
<path d="M596.55,158.55L600.05,162.65M600.05,158.55L596.55,162.65" stroke="#878787" stroke-width="0.9" fill="none"/>
<path d="M596.75,139.65L600.25,143.75M600.25,139.65L596.75,143.75" stroke="#878787" stroke-width="0.9" fill="none"/>
<path d="M582.45,156.95L585.95,161.05M585.95,156.95L582.45,161.05" stroke="#878787" stroke-width="0.9" fill="none"/>
<path d="M580.35,152.25L583.85,156.35M583.85,152.25L580.35,156.35" stroke="#878787" stroke-width="0.9" fill="none"/>
<path d="M583.65,150.55L587.15,154.65M587.15,150.55L583.65,154.65" stroke="#878787" stroke-width="0.9" fill="none"/>
<path d="M585.35,148.05L588.85,152.15M588.85,148.05L585.35,152.15" stroke="#878787" stroke-width="0.9" fill="none"/>
<path d="M563.45,169.95L566.95,174.05M566.95,169.95L563.45,174.05" stroke="#878787" stroke-width="0.9" fill="none"/>
<path d="M566.45,164.95L569.95,169.05M569.95,164.95L566.45,169.05" stroke="#878787" stroke-width="0.9" fill="none"/>
<path d="M563.85,158.95L567.35,163.05M567.35,158.95L563.85,163.05" stroke="#878787" stroke-width="0.9" fill="none"/>
<path d="M565.95,159.85L569.45,163.95M569.45,159.85L565.95,163.95" stroke="#878787" stroke-width="0.9" fill="none"/>
<path d="M555.05,158.15L558.55,162.25M558.55,158.15L555.05,162.25" stroke="#878787" stroke-width="0.9" fill="none"/>
<path d="M555.85,160.65L559.35,164.75M559.35,160.65L555.85,164.75" stroke="#878787" stroke-width="0.9" fill="none"/>
<path d="M553.35,163.25L556.85,167.35M556.85,163.25L553.35,167.35" stroke="#878787" stroke-width="0.9" fill="none"/>
<path d="M555.05,164.05L558.55,168.15M558.55,164.05L555.05,168.15" stroke="#878787" stroke-width="0.9" fill="none"/>
<path d="M544.95,158.15L548.45,162.25M548.45,158.15L544.95,162.25" stroke="#878787" stroke-width="0.9" fill="none"/>
<path d="M544.95,161.55L548.45,165.65M548.45,161.55L544.95,165.65" stroke="#878787" stroke-width="0.9" fill="none"/>
<path d="M548.25,164.95L551.75,169.05M551.75,164.95L548.25,169.05" stroke="#878787" stroke-width="0.9" fill="none"/>
<path d="M549.95,164.95L553.45,169.05M553.45,164.95L549.95,169.05" stroke="#878787" stroke-width="0.9" fill="none"/>
<path d="M547.45,148.95L550.95,153.05M550.95,148.95L547.45,153.05" stroke="#878787" stroke-width="0.9" fill="none"/>
<path d="M549.95,150.55L553.45,154.65M553.45,150.55L549.95,154.65" stroke="#878787" stroke-width="0.9" fill="none"/>
<path d="M553.35,148.95L556.85,153.05M556.85,148.95L553.35,153.05" stroke="#878787" stroke-width="0.9" fill="none"/>
<path d="M559.25,169.55L562.75,173.65M562.75,169.55L559.25,173.65" stroke="#878787" stroke-width="0.9" fill="none"/>
<path d="M589.75,96.55L593.25,100.65M593.25,96.55L589.75,100.65" stroke="#878787" stroke-width="0.9" fill="none"/>
<path d="M619.75,91.65L623.25,95.75M623.25,91.65L619.75,95.75" stroke="#878787" stroke-width="0.9" fill="none"/>
<path d="M610.85,98.75L614.35,102.85M614.35,98.75L610.85,102.85" stroke="#878787" stroke-width="0.9" fill="none"/>
<path d="M520.45,166.85L523.95,170.95M523.95,166.85L520.45,170.95" stroke="#878787" stroke-width="0.9" fill="none"/>
<path d="M531.15,156.05L534.65,160.15M534.65,156.05L531.15,160.15" stroke="#878787" stroke-width="0.9" fill="none"/>
<path d="M540.05,170.45L543.55,174.55M543.55,170.45L540.05,174.55" stroke="#878787" stroke-width="0.9" fill="none"/>
<path d="M585.75,111.35L589.25,115.45M589.25,111.35L585.75,115.45" stroke="#878787" stroke-width="0.9" fill="none"/>
<path d="M586.65,115.85L590.15,119.95M590.15,115.85L586.65,119.95" stroke="#878787" stroke-width="0.9" fill="none"/>
<path d="M554.35,133.75L557.85,137.85M557.85,133.75L554.35,137.85" stroke="#878787" stroke-width="0.9" fill="none"/>
<path d="M573.25,135.95L576.75,140.05M576.75,135.95L573.25,140.05" stroke="#878787" stroke-width="0.9" fill="none"/>
<path d="M576.25,138.95L579.75,143.05M579.75,138.95L576.25,143.05" stroke="#878787" stroke-width="0.9" fill="none"/>
<path d="M575.25,132.95L578.75,137.05M578.75,132.95L575.25,137.05" stroke="#878787" stroke-width="0.9" fill="none"/>
<path d="M567.25,130.95L570.75,135.05M570.75,130.95L567.25,135.05" stroke="#878787" stroke-width="0.9" fill="none"/>
<path d="M559.25,136.95L562.75,141.05M562.75,136.95L559.25,141.05" stroke="#878787" stroke-width="0.9" fill="none"/>
<path d="M557.25,142.95L560.75,147.05M560.75,142.95L557.25,147.05" stroke="#878787" stroke-width="0.9" fill="none"/>
<path d="M551.25,144.95L554.75,149.05M554.75,144.95L551.25,149.05" stroke="#878787" stroke-width="0.9" fill="none"/>
<path d="M559.59,146.68L563.09,150.78M563.09,146.68L559.59,150.78" stroke="#878787" stroke-width="0.9" fill="none"/>
<path d="M584.84,123.07L588.34,127.17M588.34,123.07L584.84,127.17" stroke="#878787" stroke-width="0.9" fill="none"/>
<path d="M557.40,146.54L560.90,150.64M560.90,146.54L557.40,150.64" stroke="#878787" stroke-width="0.9" fill="none"/>
<path d="M581.82,132.21L585.32,136.31M585.32,132.21L581.82,136.31" stroke="#878787" stroke-width="0.9" fill="none"/>
<path d="M556.28,142.27L559.78,146.37M559.78,142.27L556.28,146.37" stroke="#878787" stroke-width="0.9" fill="none"/>
<path d="M583.33,128.40L586.83,132.50M586.83,128.40L583.33,132.50" stroke="#878787" stroke-width="0.9" fill="none"/>
<path d="M594.47,121.77L597.97,125.87M597.97,121.77L594.47,125.87" stroke="#878787" stroke-width="0.9" fill="none"/>
<path d="M571.95,134.22L575.45,138.32M575.45,134.22L571.95,138.32" stroke="#878787" stroke-width="0.9" fill="none"/>
<path d="M603.66,109.20L607.16,113.30M607.16,109.20L603.66,113.30" stroke="#878787" stroke-width="0.9" fill="none"/>
<path d="M561.85,138.53L565.35,142.63M565.35,138.53L561.85,142.63" stroke="#878787" stroke-width="0.9" fill="none"/>
<path d="M575.21,133.41L578.71,137.51M578.71,133.41L575.21,137.51" stroke="#878787" stroke-width="0.9" fill="none"/>
<path d="M569.42,137.10L572.92,141.20M572.92,137.10L569.42,141.20" stroke="#878787" stroke-width="0.9" fill="none"/>
<path d="M578.49,133.12L581.99,137.22M581.99,133.12L578.49,137.22" stroke="#878787" stroke-width="0.9" fill="none"/>
<path d="M587.56,123.96L591.06,128.06M591.06,123.96L587.56,128.06" stroke="#878787" stroke-width="0.9" fill="none"/>
<path d="M553.35,152.95L556.85,157.05M556.85,152.95L553.35,157.05" stroke="#878787" stroke-width="0.9" fill="none"/>
<path d="M556.08,147.13L559.58,151.23M559.58,147.13L556.08,151.23" stroke="#878787" stroke-width="0.9" fill="none"/>
<path d="M555.77,148.10L559.27,152.20M559.27,148.10L555.77,152.20" stroke="#878787" stroke-width="0.9" fill="none"/>
<path d="M564.69,141.98L568.19,146.08M568.19,141.98L564.69,146.08" stroke="#878787" stroke-width="0.9" fill="none"/>
<path d="M604.15,109.82L607.65,113.92M607.65,109.82L604.15,113.92" stroke="#878787" stroke-width="0.9" fill="none"/>
<path d="M581.33,122.43L584.83,126.53M584.83,122.43L581.33,126.53" stroke="#878787" stroke-width="0.9" fill="none"/>
<path d="M571.59,138.43L575.09,142.53M575.09,138.43L571.59,142.53" stroke="#878787" stroke-width="0.9" fill="none"/>
<path d="M573.37,135.80L576.87,139.90M576.87,135.80L573.37,139.90" stroke="#878787" stroke-width="0.9" fill="none"/>
<path d="M572.96,130.35L576.46,134.45M576.46,130.35L572.96,134.45" stroke="#878787" stroke-width="0.9" fill="none"/>
<path d="M578.97,126.43L582.47,130.53M582.47,126.43L578.97,130.53" stroke="#878787" stroke-width="0.9" fill="none"/>
<path d="M595.55,114.67L599.05,118.77M599.05,114.67L595.55,118.77" stroke="#878787" stroke-width="0.9" fill="none"/>
<path d="M582.13,127.37L585.63,131.47M585.63,127.37L582.13,131.47" stroke="#878787" stroke-width="0.9" fill="none"/>
<path d="M584.14,123.25L587.64,127.35M587.64,123.25L584.14,127.35" stroke="#878787" stroke-width="0.9" fill="none"/>
<path d="M585.68,124.04L589.18,128.14M589.18,124.04L585.68,128.14" stroke="#878787" stroke-width="0.9" fill="none"/>
<path d="M590.44,123.44L593.94,127.54M593.94,123.44L590.44,127.54" stroke="#878787" stroke-width="0.9" fill="none"/>
<path d="M573.88,130.57L577.38,134.67M577.38,130.57L573.88,134.67" stroke="#878787" stroke-width="0.9" fill="none"/>
<path d="M584.07,127.79L587.57,131.89M587.57,127.79L584.07,131.89" stroke="#878787" stroke-width="0.9" fill="none"/>
<path d="M593.01,117.21L596.51,121.31M596.51,117.21L593.01,121.31" stroke="#878787" stroke-width="0.9" fill="none"/>
<path d="M581.55,129.94L585.05,134.04M585.05,129.94L581.55,134.04" stroke="#878787" stroke-width="0.9" fill="none"/>
<path d="M577.63,131.77L581.13,135.87M581.13,131.77L577.63,135.87" stroke="#878787" stroke-width="0.9" fill="none"/>
<path d="M574.75,130.65L578.25,134.75M578.25,130.65L574.75,134.75" stroke="#878787" stroke-width="0.9" fill="none"/>
<path d="M560.56,142.66L564.06,146.76M564.06,142.66L560.56,146.76" stroke="#878787" stroke-width="0.9" fill="none"/>
<path d="M584.04,132.20L587.54,136.30M587.54,132.20L584.04,136.30" stroke="#878787" stroke-width="0.9" fill="none"/>
<path d="M587.82,127.30L591.32,131.40M591.32,127.30L587.82,131.40" stroke="#878787" stroke-width="0.9" fill="none"/>
<path d="M584.66,128.30L588.16,132.40M588.16,128.30L584.66,132.40" stroke="#878787" stroke-width="0.9" fill="none"/>
<path d="M577.56,134.19L581.06,138.29M581.06,134.19L577.56,138.29" stroke="#878787" stroke-width="0.9" fill="none"/>
<path d="M594.72,116.07L598.22,120.17M598.22,116.07L594.72,120.17" stroke="#878787" stroke-width="0.9" fill="none"/>
<path d="M569.29,145.69L572.79,149.79M572.79,145.69L569.29,149.79" stroke="#878787" stroke-width="0.9" fill="none"/>
<path d="M578.72,134.12L582.22,138.22M582.22,134.12L578.72,138.22" stroke="#878787" stroke-width="0.9" fill="none"/>
<path d="M582.09,122.62L585.59,126.72M585.59,122.62L582.09,126.72" stroke="#878787" stroke-width="0.9" fill="none"/>
<path d="M607.06,115.19L610.56,119.29M610.56,115.19L607.06,119.29" stroke="#878787" stroke-width="0.9" fill="none"/>
<path d="M577.44,134.20L580.94,138.30M580.94,134.20L577.44,138.30" stroke="#878787" stroke-width="0.9" fill="none"/>
<path d="M573.49,130.44L576.99,134.54M576.99,130.44L573.49,134.54" stroke="#878787" stroke-width="0.9" fill="none"/>
<path d="M573.15,136.00L576.65,140.10M576.65,136.00L573.15,140.10" stroke="#878787" stroke-width="0.9" fill="none"/>
<text x="575.91" y="139.33" fill="#dd7747" stroke="#dd7747" stroke-width="0.9" font-size="8.8" font-weight="bold">D</text>
<text x="575.34" y="146.10" fill="#44a447" stroke="#44a447" stroke-width="0.35" font-size="9" font-weight="bold">S</text>
<text x="592.64" y="124.00" fill="#44a447" stroke="#44a447" stroke-width="0.35" font-size="9" font-weight="bold">S</text>
<text x="599.24" y="131.40" fill="#44a447" stroke="#44a447" stroke-width="0.35" font-size="9" font-weight="bold">S</text>
<text x="601.15" y="145.54" fill="#44a447" stroke="#44a447" stroke-width="0.35" font-size="10" font-weight="bold">s</text>
<text x="615.42" y="124.84" fill="#44a447" stroke="#44a447" stroke-width="0.35" font-size="10" font-weight="bold">S</text>
<text x="636.22" y="98.84" fill="#44a447" stroke="#44a447" stroke-width="0.35" font-size="10" font-weight="bold">S</text>
<text x="661.52" y="83.84" fill="#44a447" stroke="#44a447" stroke-width="0.35" font-size="10" font-weight="bold">S</text>
<text x="668.12" y="43.24" fill="#44a447" stroke="#44a447" stroke-width="0.35" font-size="10" font-weight="bold">S</text>
<text x="631.22" y="71.44" fill="#44a447" stroke="#44a447" stroke-width="0.35" font-size="10" font-weight="bold">S</text>
<text x="622.72" y="80.34" fill="#44a447" stroke="#44a447" stroke-width="0.35" font-size="10" font-weight="bold">S</text>
<text x="606.39" y="102.94" fill="#23a2dc" stroke="#23a2dc" stroke-width="0.35" font-size="10" font-weight="bold">e</text>
<text x="613.79" y="109.94" fill="#23a2dc" stroke="#23a2dc" stroke-width="0.35" font-size="10" font-weight="bold">e</text>
<text x="627.89" y="108.64" fill="#23a2dc" stroke="#23a2dc" stroke-width="0.35" font-size="10" font-weight="bold">e</text>
<text x="614.82" y="86.17" fill="#23a2dc" stroke="#23a2dc" stroke-width="0.35" font-size="10" font-weight="bold">b</text>
<text x="599.81" y="97.52" fill="#1d4f96" stroke="#1d4f96" stroke-width="0.35" font-size="10" font-weight="bold">h</text>
<text x="670.91" y="29.92" fill="#1d4f96" stroke="#1d4f96" stroke-width="0.35" font-size="10" font-weight="bold">h</text>
<text x="670.91" y="41.82" fill="#1d4f96" stroke="#1d4f96" stroke-width="0.35" font-size="10" font-weight="bold">h</text>
<text x="658.91" y="58.42" fill="#1d4f96" stroke="#1d4f96" stroke-width="0.35" font-size="10" font-weight="bold">h</text>
<text x="661.71" y="67.92" fill="#1d4f96" stroke="#1d4f96" stroke-width="0.35" font-size="10" font-weight="bold">h</text>
<text x="633.31" y="61.62" fill="#1d4f96" stroke="#1d4f96" stroke-width="0.35" font-size="10" font-weight="bold">h</text>
<text x="638.11" y="66.32" fill="#1d4f96" stroke="#1d4f96" stroke-width="0.35" font-size="10" font-weight="bold">h</text>
<text x="621.91" y="67.32" fill="#1d4f96" stroke="#1d4f96" stroke-width="0.35" font-size="10" font-weight="bold">h</text>
<text x="615.31" y="72.02" fill="#1d4f96" stroke="#1d4f96" stroke-width="0.35" font-size="10" font-weight="bold">h</text>
<text x="628.21" y="71.12" fill="#1d4f96" stroke="#1d4f96" stroke-width="0.35" font-size="10" font-weight="bold">h</text>
<text x="617.21" y="77.32" fill="#1d4f96" stroke="#1d4f96" stroke-width="0.35" font-size="10" font-weight="bold">h</text>
<text x="621.91" y="84.32" fill="#1d4f96" stroke="#1d4f96" stroke-width="0.35" font-size="10" font-weight="bold">h</text>
<text x="638.11" y="84.32" fill="#1d4f96" stroke="#1d4f96" stroke-width="0.35" font-size="10" font-weight="bold">h</text>
<text x="525.88" y="183.67" fill="#cf2636" stroke="#cf2636" stroke-width="0.35" font-size="9.5" font-weight="bold">S</text>
<text x="532.35" y="183.67" fill="#cf2636" stroke="#cf2636" stroke-width="0.25" font-size="6" font-weight="bold">11</text>
<text x="552.76" y="177.14" fill="#cf2636" stroke="#cf2636" stroke-width="0.35" font-size="10" font-weight="bold">L</text>
<text x="559.07" y="177.14" fill="#cf2636" stroke="#cf2636" stroke-width="0.25" font-size="6" font-weight="bold">1</text>
<text x="585.2" y="226.7" font-size="10" text-anchor="middle" fill="#231f20" stroke="#231f20" stroke-width="0.2">M<tspan font-size="6.5" dy="2">3</tspan><tspan dy="-2"> buccolingual (BL) diameter (mm)</tspan></text>
<text transform="translate(475.3,103.5) rotate(-90)" x="0" y="0" font-size="10" text-anchor="middle" fill="#231f20" stroke="#231f20" stroke-width="0.2">M<tspan font-size="6.5" dy="-3.5">3</tspan><tspan dy="3.5"> mesiodistal (MD) diameter (mm)</tspan></text>
<text x="462.80" y="11.00" font-size="14.5" text-anchor="start" font-weight="bold" fill="#231f20" stroke="#231f20" stroke-width="0.3">c</text>
<rect x="64.6" y="256.9" width="434.40" height="165.00" fill="none" stroke="#2e2e2e" stroke-width="1.1"/>
<path d="M100.36,421.9v-6M100.36,256.9v6" stroke="#2e2e2e" stroke-width="1"/>
<path d="M136.65,421.9v-6M136.65,256.9v6" stroke="#2e2e2e" stroke-width="1"/>
<path d="M172.94,421.9v-6M172.94,256.9v6" stroke="#2e2e2e" stroke-width="1"/>
<path d="M209.23,421.9v-6M209.23,256.9v6" stroke="#2e2e2e" stroke-width="1"/>
<path d="M245.52,421.9v-6M245.52,256.9v6" stroke="#2e2e2e" stroke-width="1"/>
<path d="M281.81,421.9v-6M281.81,256.9v6" stroke="#2e2e2e" stroke-width="1"/>
<path d="M318.10,421.9v-6M318.10,256.9v6" stroke="#2e2e2e" stroke-width="1"/>
<path d="M354.39,421.9v-6M354.39,256.9v6" stroke="#2e2e2e" stroke-width="1"/>
<path d="M390.68,421.9v-6M390.68,256.9v6" stroke="#2e2e2e" stroke-width="1"/>
<path d="M426.97,421.9v-6M426.97,256.9v6" stroke="#2e2e2e" stroke-width="1"/>
<path d="M463.26,421.9v-6M463.26,256.9v6" stroke="#2e2e2e" stroke-width="1"/>
<path d="M64.6,408.80h7M499.0,408.80h-7" stroke="#2e2e2e" stroke-width="1"/>
<path d="M64.6,375.40h7M499.0,375.40h-7" stroke="#2e2e2e" stroke-width="1"/>
<path d="M64.6,342.00h7M499.0,342.00h-7" stroke="#2e2e2e" stroke-width="1"/>
<path d="M64.6,308.60h7M499.0,308.60h-7" stroke="#2e2e2e" stroke-width="1"/>
<path d="M64.6,275.20h7M499.0,275.20h-7" stroke="#2e2e2e" stroke-width="1"/>
<text x="90.59" y="435.80" font-size="10" fill="#231f20" stroke="#231f20" stroke-width="0.15" textLength="16.02" lengthAdjust="spacingAndGlyphs">-0.3</text>
<text x="161.69" y="435.80" font-size="10" fill="#231f20" stroke="#231f20" stroke-width="0.15" textLength="15.98" lengthAdjust="spacingAndGlyphs">-0.2</text>
<text x="234.38" y="435.80" font-size="10" fill="#231f20" stroke="#231f20" stroke-width="0.15" textLength="16.28" lengthAdjust="spacingAndGlyphs">-0.1</text>
<text x="315.02" y="435.80" font-size="10" fill="#231f20" stroke="#231f20" stroke-width="0.15" textLength="5.35" lengthAdjust="spacingAndGlyphs">0</text>
<text x="383.47" y="435.80" font-size="10" fill="#231f20" stroke="#231f20" stroke-width="0.15" textLength="11.85" lengthAdjust="spacingAndGlyphs">0.1</text>
<text x="457.35" y="435.80" font-size="10" fill="#231f20" stroke="#231f20" stroke-width="0.15" textLength="12.40" lengthAdjust="spacingAndGlyphs">0.2</text>
<text x="46.66" y="280.00" font-size="10" fill="#231f20" stroke="#231f20" stroke-width="0.15" textLength="12.28" lengthAdjust="spacingAndGlyphs">0.1</text>
<text x="46.79" y="346.90" font-size="10" fill="#231f20" stroke="#231f20" stroke-width="0.15" textLength="5.82" lengthAdjust="spacingAndGlyphs">0</text>
<text x="41.61" y="413.70" font-size="10" fill="#231f20" stroke="#231f20" stroke-width="0.15" textLength="15.01" lengthAdjust="spacingAndGlyphs">-0.1</text>
<text x="278.79" y="311.99" fill="#44a447" stroke="#44a447" stroke-width="0.35" font-size="11" font-weight="bold">S</text>
<text x="286.20" y="311.99" fill="#44a447" stroke="#44a447" stroke-width="0.25" font-size="6.8" font-weight="normal">8</text>
<text x="307.89" y="316.59" fill="#44a447" stroke="#44a447" stroke-width="0.35" font-size="11" font-weight="bold">S</text>
<text x="315.30" y="316.59" fill="#44a447" stroke="#44a447" stroke-width="0.25" font-size="6.8" font-weight="normal">77</text>
<text x="305.29" y="346.99" fill="#44a447" stroke="#44a447" stroke-width="0.35" font-size="11" font-weight="bold">S</text>
<text x="312.70" y="346.99" fill="#44a447" stroke="#44a447" stroke-width="0.25" font-size="6.8" font-weight="normal">21</text>
<text x="351.29" y="306.39" fill="#44a447" stroke="#44a447" stroke-width="0.35" font-size="11" font-weight="bold">S</text>
<text x="358.70" y="306.39" fill="#44a447" stroke="#44a447" stroke-width="0.25" font-size="6.8" font-weight="normal">6b</text>
<text x="369.09" y="328.79" fill="#44a447" stroke="#44a447" stroke-width="0.35" font-size="11" font-weight="bold">S</text>
<text x="376.50" y="328.79" fill="#44a447" stroke="#44a447" stroke-width="0.25" font-size="6.8" font-weight="normal">22</text>
<text x="330.59" y="344.09" fill="#44a447" stroke="#44a447" stroke-width="0.35" font-size="11" font-weight="bold">S</text>
<text x="338.00" y="344.09" fill="#44a447" stroke="#44a447" stroke-width="0.25" font-size="6.8" font-weight="normal">1b</text>
<text x="358.89" y="365.39" fill="#44a447" stroke="#44a447" stroke-width="0.35" font-size="11" font-weight="bold">S</text>
<text x="366.30" y="365.39" fill="#44a447" stroke="#44a447" stroke-width="0.25" font-size="6.8" font-weight="normal">9</text>
<text x="362.27" y="382.91" fill="#44a447" stroke="#44a447" stroke-width="0.35" font-size="11" font-weight="bold">s</text>
<text x="368.44" y="382.91" fill="#44a447" stroke="#44a447" stroke-width="0.25" font-size="7" font-weight="normal">8103</text>
<text x="291.81" y="333.71" fill="#23a2dc" stroke="#23a2dc" stroke-width="0.35" font-size="11" font-weight="bold">e</text>
<text x="305.91" y="343.31" fill="#23a2dc" stroke="#23a2dc" stroke-width="0.35" font-size="11" font-weight="bold">e</text>
<text x="331.51" y="336.11" fill="#23a2dc" stroke="#23a2dc" stroke-width="0.35" font-size="11" font-weight="bold">e</text>
<text x="360.51" y="349.91" fill="#23a2dc" stroke="#23a2dc" stroke-width="0.35" font-size="11" font-weight="bold">e</text>
<text x="344.41" y="357.61" fill="#23a2dc" stroke="#23a2dc" stroke-width="0.35" font-size="11" font-weight="bold">e</text>
<text x="92.90" y="280.29" fill="#1d4f96" stroke="#1d4f96" stroke-width="0.35" font-size="11" font-weight="bold">h</text>
<text x="216.70" y="348.39" fill="#1d4f96" stroke="#1d4f96" stroke-width="0.35" font-size="11" font-weight="bold">h</text>
<text x="246.70" y="352.59" fill="#1d4f96" stroke="#1d4f96" stroke-width="0.35" font-size="11" font-weight="bold">h</text>
<text x="264.00" y="355.09" fill="#1d4f96" stroke="#1d4f96" stroke-width="0.35" font-size="11" font-weight="bold">h</text>
<text x="274.10" y="336.99" fill="#1d4f96" stroke="#1d4f96" stroke-width="0.35" font-size="11" font-weight="bold">h</text>
<text x="281.60" y="328.99" fill="#1d4f96" stroke="#1d4f96" stroke-width="0.35" font-size="11" font-weight="bold">h</text>
<text x="280.90" y="352.39" fill="#1d4f96" stroke="#1d4f96" stroke-width="0.35" font-size="11" font-weight="bold">h</text>
<text x="282.10" y="353.29" fill="#1d4f96" stroke="#1d4f96" stroke-width="0.35" font-size="11" font-weight="bold">h</text>
<text x="315.10" y="336.19" fill="#1d4f96" stroke="#1d4f96" stroke-width="0.35" font-size="11" font-weight="bold">h</text>
<text x="264.20" y="382.99" fill="#1d4f96" stroke="#1d4f96" stroke-width="0.35" font-size="11" font-weight="bold">h</text>
<text x="300.20" y="384.59" fill="#1d4f96" stroke="#1d4f96" stroke-width="0.35" font-size="11" font-weight="bold">h</text>
<text x="244.40" y="403.29" fill="#1d4f96" stroke="#1d4f96" stroke-width="0.35" font-size="11" font-weight="bold">h</text>
<text x="334.20" y="371.99" fill="#1d4f96" stroke="#1d4f96" stroke-width="0.35" font-size="11" font-weight="bold">h</text>
<text x="381.24" y="297.58" fill="#cf2636" stroke="#cf2636" stroke-width="0.35" font-size="11" font-weight="bold">L</text>
<text x="388.12" y="297.58" fill="#cf2636" stroke="#cf2636" stroke-width="0.25" font-size="6.8" font-weight="normal">6</text>
<text x="363.39" y="352.69" fill="#cf2636" stroke="#cf2636" stroke-width="0.35" font-size="11" font-weight="bold">S</text>
<text x="370.80" y="352.69" fill="#cf2636" stroke="#cf2636" stroke-width="0.25" font-size="6.8" font-weight="normal">11</text>
<text x="471.89" y="302.53" fill="#cf2636" stroke="#cf2636" stroke-width="0.35" font-size="11" font-weight="bold">L</text>
<text x="478.77" y="302.53" fill="#cf2636" stroke="#cf2636" stroke-width="0.25" font-size="6.8" font-weight="normal">1</text>
<text transform="translate(88.2,374) rotate(-90)" font-size="9.7" text-anchor="middle" fill="#231f20"><tspan font-weight="bold" stroke="#231f20" stroke-width="0.45">PC2</tspan><tspan stroke="#231f20" stroke-width="0.2"> (15%)</tspan></text>
<text x="404.8" y="410.8" font-size="9.5" fill="#231f20"><tspan font-weight="bold">PC1</tspan> (74%)</text>
<text x="0.70" y="257.60" font-size="14.5" text-anchor="start" font-weight="bold" fill="#231f20" stroke="#231f20" stroke-width="0.3">d</text>
<path d="M22.00,267.40C23.60,267.20 25.07,266.97 26.80,267.20C28.53,267.43 30.80,268.00 32.40,268.80C34.00,269.60 35.40,270.80 36.40,272.00C37.40,273.20 37.93,274.67 38.40,276.00C38.87,277.33 39.13,278.53 39.20,280.00C39.27,281.47 39.07,283.20 38.80,284.80C38.53,286.40 38.27,288.00 37.60,289.60C36.93,291.20 35.93,293.07 34.80,294.40C33.67,295.73 32.13,296.87 30.80,297.60C29.47,298.33 28.27,298.73 26.80,298.80C25.33,298.87 23.73,298.67 22.00,298.00C20.27,297.33 17.93,296.07 16.40,294.80C14.87,293.53 13.70,291.93 12.80,290.40C11.90,288.87 11.40,287.33 11.00,285.60C10.60,283.87 10.40,281.73 10.40,280.00C10.40,278.27 10.47,276.73 11.00,275.20C11.53,273.67 12.57,271.93 13.60,270.80C14.63,269.67 15.80,268.97 17.20,268.40C18.60,267.83 20.40,267.60 22.00,267.40Z" fill="#8a8787" stroke="#7d7a7a" stroke-width="0.6"/>
<path d="M18.00,326.00C19.73,325.57 22.27,325.40 24.40,325.40C26.53,325.40 28.93,325.43 30.80,326.00C32.67,326.57 34.40,327.60 35.60,328.80C36.80,330.00 37.47,331.67 38.00,333.20C38.53,334.73 38.73,336.27 38.80,338.00C38.87,339.73 38.73,341.87 38.40,343.60C38.07,345.33 37.60,346.80 36.80,348.40C36.00,350.00 34.87,351.87 33.60,353.20C32.33,354.53 30.73,355.73 29.20,356.40C27.67,357.07 26.00,357.27 24.40,357.20C22.80,357.13 21.13,356.73 19.60,356.00C18.07,355.27 16.47,354.20 15.20,352.80C13.93,351.40 12.80,349.40 12.00,347.60C11.20,345.80 10.67,343.87 10.40,342.00C10.13,340.13 10.20,338.13 10.40,336.40C10.60,334.67 11.00,333.00 11.60,331.60C12.20,330.20 12.93,328.93 14.00,328.00C15.07,327.07 16.27,326.43 18.00,326.00Z" fill="#8a8787" stroke="#7d7a7a" stroke-width="0.6"/>
<path d="M18.00,385.40C19.53,384.90 21.60,384.53 23.60,384.40C25.60,384.27 28.13,384.23 30.00,384.60C31.87,384.97 33.47,385.73 34.80,386.60C36.13,387.47 37.30,388.47 38.00,389.80C38.70,391.13 38.93,392.87 39.00,394.60C39.07,396.33 38.77,398.33 38.40,400.20C38.03,402.07 37.60,403.93 36.80,405.80C36.00,407.67 34.73,409.80 33.60,411.40C32.47,413.00 31.40,414.47 30.00,415.40C28.60,416.33 26.80,416.87 25.20,417.00C23.60,417.13 22.00,416.87 20.40,416.20C18.80,415.53 17.00,414.33 15.60,413.00C14.20,411.67 12.87,409.93 12.00,408.20C11.13,406.47 10.63,404.47 10.40,402.60C10.17,400.73 10.33,398.87 10.60,397.00C10.87,395.13 11.37,393.00 12.00,391.40C12.63,389.80 13.40,388.40 14.40,387.40C15.40,386.40 16.47,385.90 18.00,385.40Z" fill="#8a8787" stroke="#7d7a7a" stroke-width="0.6"/>
<path d="M177.60,438.80C179.22,438.33 181.38,437.80 183.50,437.70C185.62,437.60 188.27,437.73 190.30,438.20C192.33,438.67 194.30,439.48 195.70,440.50C197.10,441.52 198.03,442.83 198.70,444.30C199.37,445.77 199.57,447.35 199.70,449.30C199.83,451.25 199.73,453.75 199.50,456.00C199.27,458.25 198.85,460.68 198.30,462.80C197.75,464.92 197.00,466.83 196.20,468.70C195.40,470.57 194.87,472.45 193.50,474.00C192.13,475.55 190.08,477.50 188.00,478.00C185.92,478.50 183.15,478.00 181.00,477.00C178.85,476.00 176.65,473.67 175.10,472.00C173.55,470.33 172.55,468.95 171.70,467.00C170.85,465.05 170.35,462.55 170.00,460.30C169.65,458.05 169.67,455.47 169.60,453.50C169.53,451.53 169.32,450.18 169.60,448.50C169.88,446.82 170.60,444.73 171.30,443.40C172.00,442.07 172.75,441.27 173.80,440.50C174.85,439.73 175.98,439.27 177.60,438.80Z" fill="#8a8787" stroke="#7d7a7a" stroke-width="0.6"/>
<path d="M312.60,440.40C314.33,439.93 316.20,439.60 318.20,439.60C320.20,439.60 322.73,439.87 324.60,440.40C326.47,440.93 328.20,441.73 329.40,442.80C330.60,443.87 331.27,445.27 331.80,446.80C332.33,448.33 332.53,450.20 332.60,452.00C332.67,453.80 332.53,455.73 332.20,457.60C331.87,459.47 331.33,461.53 330.60,463.20C329.87,464.87 328.93,466.40 327.80,467.60C326.67,468.80 325.40,469.80 323.80,470.40C322.20,471.00 319.93,471.20 318.20,471.20C316.47,471.20 315.00,471.00 313.40,470.40C311.80,469.80 309.93,468.80 308.60,467.60C307.27,466.40 306.17,464.87 305.40,463.20C304.63,461.53 304.23,459.60 304.00,457.60C303.77,455.60 303.83,453.13 304.00,451.20C304.17,449.27 304.37,447.47 305.00,446.00C305.63,444.53 306.53,443.33 307.80,442.40C309.07,441.47 310.87,440.87 312.60,440.40Z" fill="#8a8787" stroke="#7d7a7a" stroke-width="0.6"/>
<path d="M451.40,442.60C453.07,442.17 455.13,441.93 457.00,442.00C458.87,442.07 461.00,442.43 462.60,443.00C464.20,443.57 465.53,444.40 466.60,445.40C467.67,446.40 468.43,447.60 469.00,449.00C469.57,450.40 469.93,452.07 470.00,453.80C470.07,455.53 469.77,457.67 469.40,459.40C469.03,461.13 468.60,462.80 467.80,464.20C467.00,465.60 465.87,466.87 464.60,467.80C463.33,468.73 461.60,469.50 460.20,469.80C458.80,470.10 457.67,469.80 456.20,469.60C454.73,469.40 453.00,469.23 451.40,468.60C449.80,467.97 447.87,466.93 446.60,465.80C445.33,464.67 444.50,463.27 443.80,461.80C443.10,460.33 442.60,458.60 442.40,457.00C442.20,455.40 442.30,453.73 442.60,452.20C442.90,450.67 443.47,449.07 444.20,447.80C444.93,446.53 445.80,445.47 447.00,444.60C448.20,443.73 449.73,443.03 451.40,442.60Z" fill="#8a8787" stroke="#7d7a7a" stroke-width="0.6"/>
<text x="527.3" y="283.60" font-size="10.5" font-weight="bold" text-anchor="middle" fill="#e5804a" stroke="#e5804a" stroke-width="0.35">a</text>
<text x="538.80" y="283.60" font-size="10" fill="#231f20" stroke="#231f20" stroke-width="0.12"><tspan font-style="italic">Au. afarensis</tspan></text>
<text x="527.3" y="295.55" font-size="10.5" font-weight="bold" text-anchor="middle" fill="#d2187f" stroke="#d2187f" stroke-width="0.35">a</text>
<text x="538.80" y="295.55" font-size="10" fill="#231f20" stroke="#231f20" stroke-width="0.12"><tspan font-style="italic">Au. africanus</tspan></text>
<text x="527.3" y="307.50" font-size="10.5" font-weight="bold" text-anchor="middle" fill="#1d4f96" stroke="#1d4f96" stroke-width="0.35">h</text>
<text x="538.80" y="307.50" font-size="10" fill="#231f20" stroke="#231f20" stroke-width="0.12"><tspan font-style="italic">H. habilis sensu lato</tspan></text>
<text x="527.3" y="319.45" font-size="10.5" font-weight="bold" text-anchor="middle" fill="#23a2dc" stroke="#23a2dc" stroke-width="0.35">e</text>
<text x="538.80" y="319.45" font-size="10" fill="#231f20" stroke="#231f20" stroke-width="0.12"><tspan font-style="italic">H. ergaster</tspan></text>
<text x="527.3" y="331.40" font-size="10.5" font-weight="bold" text-anchor="middle" fill="#dd7747" stroke="#dd7747" stroke-width="0.35">D</text>
<text x="540.80" y="331.40" font-size="10" fill="#231f20" stroke="#231f20" stroke-width="0.12">Dmanisi <tspan font-style="italic">Homo</tspan></text>
<text x="527.3" y="343.35" font-size="10.5" font-weight="bold" text-anchor="middle" fill="#5f4c98" stroke="#5f4c98" stroke-width="0.35">z</text>
<text x="540.80" y="343.35" font-size="10" fill="#231f20" stroke="#231f20" stroke-width="0.12">Zhoukoudian <tspan font-style="italic">H. erectus</tspan></text>
<text x="527.3" y="355.30" font-size="10.5" font-weight="bold" text-anchor="middle" fill="#44a447" stroke="#44a447" stroke-width="0.35">S</text>
<text x="539.40" y="355.30" font-size="10" fill="#231f20" stroke="#231f20" stroke-width="0.12">early J. <tspan font-style="italic">H. erectus</tspan> (Sang. Lower)</text>
<text x="527.3" y="367.25" font-size="10.5" font-weight="bold" text-anchor="middle" fill="#44a447" stroke="#44a447" stroke-width="0.35">s</text>
<text x="539.40" y="367.25" font-size="10" fill="#231f20" stroke="#231f20" stroke-width="0.12">early J. <tspan font-style="italic">H. erectus</tspan> (Sang. Upper)</text>
<text x="527.3" y="379.20" font-size="10.5" font-weight="bold" text-anchor="middle" fill="#cf2636" stroke="#cf2636" stroke-width="0.35">L</text>
<text x="539.40" y="379.20" font-size="10" fill="#231f20" stroke="#231f20" stroke-width="0.12">Liang Bua</text>
<text x="527.3" y="391.15" font-size="10.5" font-weight="bold" text-anchor="middle" fill="#cf2636" stroke="#cf2636" stroke-width="0.35">S</text>
<text x="540.10" y="391.15" font-size="10" fill="#231f20" stroke="#231f20" stroke-width="0.12">SOA (Mata Menge)</text>
<text x="527.3" y="403.10" font-size="10" text-anchor="middle" fill="#7e7e7e">x</text>
<text x="538.80" y="403.10" font-size="10" fill="#231f20" stroke="#231f20" stroke-width="0.12"><tspan font-style="italic">H. sapiens</tspan> (Japan) for <tspan font-weight="bold">a</tspan> and <tspan font-weight="bold">b</tspan></text>
<text x="527.3" y="415.05" font-size="10" text-anchor="middle" fill="#7e7e7e">x</text>
<text x="538.80" y="415.05" font-size="10" fill="#231f20" stroke="#231f20" stroke-width="0.12"><tspan font-style="italic">H. sapiens</tspan> (global) for <tspan font-weight="bold">c</tspan></text>
</svg>
</body></html>
